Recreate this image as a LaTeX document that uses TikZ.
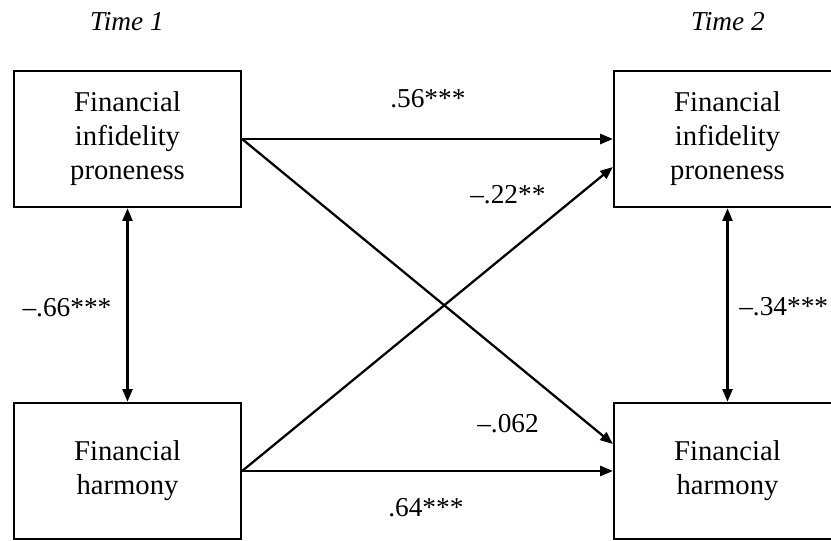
\documentclass[tikz,border=0pt]{standalone}
\usepackage{fontspec}
\setmainfont{Liberation Serif}
\usetikzlibrary{arrows.meta,calc}
\begin{document}
\begin{tikzpicture}[x=0.75pt,y=-0.75pt,
  varbox/.style={draw, line width=1.9pt, minimum width=170pt, minimum height=102pt,
    inner sep=0pt, align=center, font=\fontsize{21.5}{25.5}\selectfont},
  coef/.style={inner sep=0pt, font=\fontsize{20.5}{24}\selectfont},
  timelbl/.style={inner sep=0pt, font=\fontsize{20.5}{24}\selectfont\itshape},
  pathar/.style={line width=1.7pt, -{Triangle[length=9.5pt,width=7.5pt]}},
  corr/.style={line width=1.7pt, {Triangle[length=9.5pt,width=7.5pt]}-{Triangle[length=9.5pt,width=7.5pt]}}
]
\useasboundingbox (0,0) rectangle (831,540);
\clip (0,0) rectangle (831,540);

\node[varbox] (A) at (127.5,139) {Financial\\infidelity\\proneness};
\node[varbox] (B) at (727.5,139) {Financial\\infidelity\\proneness};
\node[varbox] (C) at (127.5,471) {Financial\\harmony};
\node[varbox] (D) at (727.5,471) {Financial\\harmony};

\node[timelbl, anchor=base] (t1) at (127,30) {Time 1};
\node[timelbl, anchor=base] (t2) at (728,30) {Time 2};

\draw[pathar] (A.east) -- (B.west);
\draw[pathar] (A.east) -- ($(D.west)+(0,-27)$);
\draw[pathar] (C.east) -- ($(B.west)+(0,28)$);
\draw[pathar] (C.east) -- (D.west);
\draw[corr] (A.south) -- (C.north);
\draw[corr] (B.south) -- (D.north);

\node[coef, anchor=base west] (l56) at (390,107) {.56***};
\node[coef, anchor=base west] (l22) at (470,203) {–.22**};
\node[coef, anchor=base west] (l062) at (477,432) {–.062};
\node[coef, anchor=base west] (l64) at (388,516) {.64***};
\node[coef, anchor=base] (l66) at (67,316) {–.66***};
\node[coef, anchor=base west] (l34) at (739,315) {–.34***};
\end{tikzpicture}
\end{document}
